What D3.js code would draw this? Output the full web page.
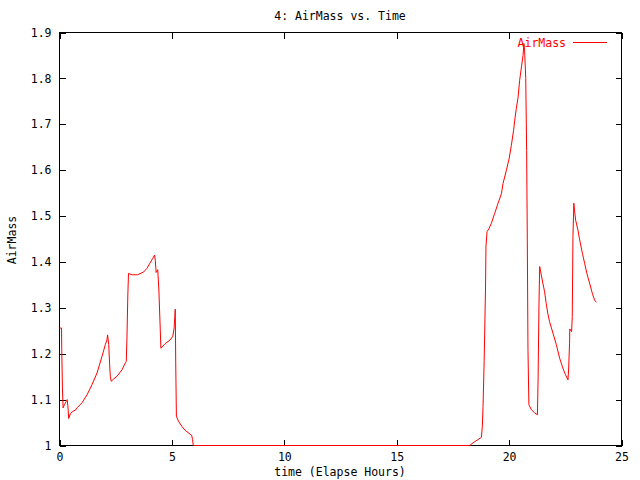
<!DOCTYPE html>
<html>
<head>
<meta charset="utf-8">
<script src="https://cdn.jsdelivr.net/npm/d3@7"></script>
<style>
  html, body { margin: 0; padding: 0; background: #fff; }
  svg { display: block; }
  text { font-family: "DejaVu Sans Mono", "Liberation Mono", monospace; font-size: 11.5px; fill: #000; }
</style>
</head>
<body>
<script>
// ---- data ----
const title = "4: AirMass vs. Time";
const xLabel = "time (Elapse Hours)";
const yLabel = "AirMass";
const seriesName = "AirMass";
const xTicks = [0, 5, 10, 15, 20, 25];
const yTicks = [1, 1.1, 1.2, 1.3, 1.4, 1.5, 1.6, 1.7, 1.8, 1.9];
const timeHours = [
  0.00, 0.09, 0.10, 0.13, 0.16, 0.22, 0.30, 0.34, 0.37, 0.41, 0.49, 0.61, 0.71, 0.78,
  1.00, 1.23, 1.45, 1.67, 1.89, 2.04, 2.11, 2.14, 2.19, 2.23, 2.26, 2.30, 2.41, 2.56,
  2.78, 2.93, 2.97, 3.00, 3.04, 3.07, 3.22, 3.47, 3.74, 3.89, 4.03, 4.15, 4.23, 4.26,
  4.30, 4.37, 4.42, 4.48, 4.51, 4.70, 4.92, 5.04, 5.10, 5.13, 5.15, 5.17, 5.20, 5.29,
  5.44, 5.59, 5.88, 5.92, 5.95,
  18.25, 18.40, 18.62, 18.77, 18.81, 18.84, 18.89, 18.95, 18.97, 19.02, 19.11, 19.21,
  19.36, 19.51, 19.66, 19.73, 19.88, 20.00, 20.10, 20.20, 20.25, 20.32, 20.40, 20.47,
  20.55, 20.62, 20.66, 20.69, 20.74, 20.78, 20.81, 20.84, 20.88, 20.99, 21.14, 21.26,
  21.29, 21.33, 21.36, 21.40, 21.43, 21.50, 21.58, 21.65, 21.72, 21.80, 21.95, 22.10,
  22.25, 22.39, 22.51, 22.62, 22.65, 22.69, 22.70, 22.78, 22.81, 22.84, 22.88, 22.91,
  22.96, 23.06, 23.14, 23.26, 23.36, 23.46, 23.58, 23.70, 23.80, 23.88
];
const airMass = [
  1.256, 1.256, 1.210, 1.125, 1.082, 1.089, 1.096, 1.100, 1.088, 1.059, 1.070, 1.075, 1.077, 1.082,
  1.093, 1.111, 1.133, 1.158, 1.194, 1.220, 1.230, 1.241, 1.220, 1.176, 1.151, 1.140, 1.145, 1.151,
  1.165, 1.180, 1.183, 1.234, 1.328, 1.375, 1.372, 1.372, 1.378, 1.386, 1.398, 1.408, 1.415, 1.404,
  1.377, 1.383, 1.339, 1.256, 1.212, 1.222, 1.230, 1.238, 1.256, 1.281, 1.297, 1.180, 1.064, 1.053,
  1.042, 1.033, 1.022, 1.013, 1.000,
  1.000, 1.006, 1.013, 1.018, 1.042, 1.085, 1.183, 1.339, 1.433, 1.466, 1.473, 1.484,
  1.506, 1.528, 1.549, 1.571, 1.600, 1.625, 1.654, 1.687, 1.709, 1.734, 1.759, 1.796,
  1.825, 1.850, 1.876, 1.860, 1.800, 1.643, 1.448, 1.209, 1.089, 1.078, 1.071, 1.067,
  1.147, 1.310, 1.390, 1.380, 1.372, 1.354, 1.335, 1.310, 1.288, 1.270, 1.245, 1.220,
  1.190, 1.169, 1.154, 1.143, 1.169, 1.223, 1.254, 1.248, 1.281, 1.455, 1.528, 1.513,
  1.491, 1.470, 1.448, 1.419, 1.397, 1.375, 1.354, 1.332, 1.317, 1.312
];

// ---- layout ----
const W = 640, H = 480;
const L = 59.5, R = 621.5, T = 32.5, B = 445.5;
const tickLen = 6;

const svg = d3.select("body").append("svg").attr("width", W).attr("height", H);

const x = d3.scaleLinear().domain([0, 25]).range([L, R]);
const y = d3.scaleLinear().domain([1, 1.9]).range([B, T]);

const fmtY = v => String(+v.toFixed(1));

// bottom axis (ticks inward)
const gB = svg.append("g").attr("transform", `translate(0,${B})`)
  .call(d3.axisBottom(x).tickValues(xTicks).tickSizeInner(-tickLen).tickSizeOuter(0).tickPadding(7).tickFormat(d3.format("d")));
// top axis (mirror ticks, no labels)
const gT = svg.append("g").attr("transform", `translate(0,${T})`)
  .call(d3.axisTop(x).tickValues(xTicks).tickSizeInner(-tickLen).tickSizeOuter(0).tickFormat(""));
// left axis
const gL = svg.append("g").attr("transform", `translate(${L},0)`)
  .call(d3.axisLeft(y).tickValues(yTicks).tickSizeInner(-tickLen).tickSizeOuter(0).tickPadding(8).tickFormat(fmtY));
// right axis (mirror)
const gR = svg.append("g").attr("transform", `translate(${R},0)`)
  .call(d3.axisRight(y).tickValues(yTicks).tickSizeInner(-tickLen).tickSizeOuter(0).tickFormat(""));

[gB, gT, gL, gR].forEach(g => {
  g.select(".domain").remove();
  g.selectAll("line").attr("stroke", "#000").attr("shape-rendering", "crispEdges");
  g.selectAll("text").attr("font-family", null).attr("font-size", null).style("fill", "#000");
});

// frame
svg.append("rect").attr("x", L).attr("y", T).attr("width", R - L).attr("height", B - T)
  .attr("fill", "none").attr("stroke", "#000").attr("stroke-width", 1).attr("shape-rendering", "crispEdges");

// line
const pts = timeHours.map((t, i) => [t, airMass[i]]);
svg.append("path").datum(pts)
  .attr("fill", "none").attr("stroke", "#ff0000").attr("stroke-width", 1)
  .attr("d", d3.line().x(d => x(d[0])).y(d => y(d[1])));

// title and labels
svg.append("text").attr("x", 340).attr("y", 20).attr("text-anchor", "middle").text(title);
svg.append("text").attr("x", 340).attr("y", 476).attr("text-anchor", "middle").text(xLabel);
svg.append("text").attr("transform", "translate(16,240) rotate(-90)").attr("text-anchor", "middle").text(yLabel);

// legend
svg.append("text").attr("x", 566).attr("y", 47).attr("text-anchor", "end").style("fill", "#ff0000").text(seriesName);
svg.append("line").attr("x1", 573).attr("x2", 607).attr("y1", 42.5).attr("y2", 42.5)
  .attr("stroke", "#ff0000").attr("stroke-width", 1).attr("shape-rendering", "crispEdges");
</script>
</body>
</html>
